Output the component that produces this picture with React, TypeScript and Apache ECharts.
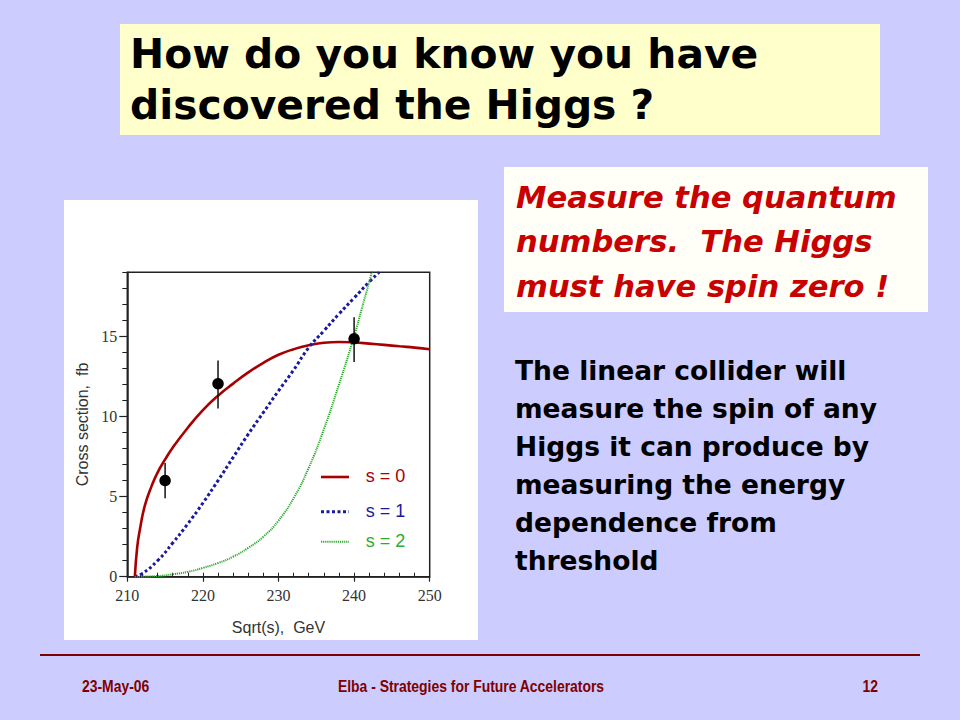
import React, { useEffect, useRef } from 'react';
import * as echarts from 'echarts';

// ---- Data ----
const s0X = [211, 211.3, 211.65, 212.3, 213.2, 214, 215, 216, 218, 220, 222, 224, 226, 228, 230, 232, 234, 236, 238, 240, 242, 244, 246, 248, 250];
const s0Y = [0, 1.8, 2.9, 4.4, 5.64, 6.5, 7.32, 8.05, 9.3, 10.4, 11.3, 12.05, 12.75, 13.35, 13.85, 14.2, 14.45, 14.6, 14.65, 14.62, 14.55, 14.47, 14.38, 14.3, 14.2];

const s1X = [211, 212, 214, 216, 218, 220, 222, 224, 226, 228, 230, 232, 234, 236, 238, 240, 242, 243.3];
const s1Y = [0, 0.2, 1.0, 2.1, 3.3, 4.6, 6.0, 7.45, 8.9, 10.25, 11.6, 12.9, 14.3, 15.35, 16.4, 17.4, 18.4, 19.0];

const s2X = [211, 214, 216, 218, 220, 222, 224, 226, 228, 230, 232, 234, 236, 238, 240, 241, 242, 242.45];
const s2Y = [0, 0.04, 0.15, 0.3, 0.55, 0.85, 1.25, 1.8, 2.5, 3.5, 4.9, 6.8, 9.2, 12.0, 15.0, 16.7, 18.4, 19.2];

const ptX = [215, 222, 240];
const ptY = [6.0, 12.05, 14.85];
const errLo = [4.9, 10.5, 13.4];
const errHi = [7.1, 13.5, 16.2];

const legendNames = ['s = 0', 's = 1', 's = 2'];
const yMajorTicks = [0, 5, 10, 15];

const titleLines = ['How do you know you have', 'discovered the Higgs ?'];
const boxLines = ['Measure the quantum', 'numbers.  The Higgs', 'must have spin zero !'];
const bodyLines = [
  'The linear collider will',
  'measure the spin of any',
  'Higgs it can produce by',
  'measuring the energy',
  'dependence from',
  'threshold',
];
const footerDate = '23-May-06';
const footerTitle = 'Elba - Strategies for Future Accelerators';
const footerPage = '12';

const RED = '#A80000';
const BLUE = '#1A1A9E';
const GREEN = '#2EAA2E';
const BLUE_DASH = [3, 2.5];
const GREEN_DASH = [1.2, 0.9];

function pairs(xs: number[], ys: number[]) {
  return xs.map((x, i) => [x, ys[i]]);
}

export default function App() {
  const ref = useRef<HTMLDivElement>(null);
  useEffect(() => {
    if (!ref.current) return;
    const chart = echarts.init(ref.current, null, { renderer: 'svg' });

    const graphics: any[] = [];
    // panel & boxes
    graphics.push({ type: 'rect', z: -10, shape: { x: 64, y: 200, width: 414, height: 440 }, style: { fill: '#FFFFFF' } });
    graphics.push({ type: 'rect', z: -10, shape: { x: 120, y: 24, width: 760, height: 111 }, style: { fill: '#FFFFCC' } });
    graphics.push({ type: 'rect', z: -10, shape: { x: 504, y: 167, width: 424, height: 145 }, style: { fill: '#FFFFF7' } });
    const titleBase = [67.7, 119];
    titleLines.forEach((t, i) => {
      graphics.push({
        type: 'text', x: 130, y: titleBase[i] - 0.346 * 40.8,
        style: { text: t, fill: '#000', font: 'bold 40.8px "DejaVu Sans"', verticalAlign: 'middle', align: 'left' },
      });
    });
    const boxBase = [208.3, 252.5, 296.7];
    boxLines.forEach((t, i) => {
      graphics.push({
        type: 'text', x: 516, y: boxBase[i] - 0.346 * 30.6,
        style: { text: t, fill: '#C80000', font: 'italic bold 30.6px "DejaVu Sans"', verticalAlign: 'middle', align: 'left' },
      });
    });
    const bodyBase = [379.3, 417.5, 455.5, 493.5, 531.7, 570];
    bodyLines.forEach((t, i) => {
      graphics.push({
        type: 'text', x: 515, y: bodyBase[i] - 0.346 * 26.5,
        style: { text: t, fill: '#000', font: 'bold 26.5px "DejaVu Sans"', verticalAlign: 'middle', align: 'left' },
      });
    });
    graphics.push({ type: 'line', shape: { x1: 40, y1: 655, x2: 920, y2: 655 }, style: { stroke: '#800000', lineWidth: 2 } });
    const footFont = 'bold 16px "Liberation Sans"';
    const sx = 0.87;
    graphics.push({ type: 'text', x: 82, y: 686, scaleX: sx, style: { text: footerDate, fill: '#800000', font: footFont, verticalAlign: 'middle', align: 'left' } });
    graphics.push({ type: 'text', x: 471, y: 686, scaleX: sx, style: { text: footerTitle, fill: '#800000', font: footFont, verticalAlign: 'middle', align: 'center' } });
    graphics.push({ type: 'text', x: 878, y: 686, scaleX: sx, style: { text: footerPage, fill: '#800000', font: footFont, verticalAlign: 'middle', align: 'right' } });

    // legend (drawn as graphic so line styles match the series exactly)
    const legY = [477, 511.7, 541.7];
    const legColors = [RED, BLUE, GREEN];
    const legStyles = [
      { lineWidth: 2.6 },
      { lineWidth: 3, lineDash: BLUE_DASH },
      { lineWidth: 2, lineDash: GREEN_DASH },
    ];
    legendNames.forEach((n, i) => {
      graphics.push({ type: 'line', z: 10, shape: { x1: 321, y1: legY[i], x2: 349, y2: legY[i] }, style: { stroke: legColors[i], ...legStyles[i] } });
      graphics.push({ type: 'text', z: 10, x: 365.7, y: legY[i] - 1, style: { text: n, fill: legColors[i], font: '18px "Liberation Sans"', verticalAlign: 'middle', align: 'left' } });
    });

    const axisColor = '#222';
    const option: any = {
      animation: false,
      backgroundColor: '#CCCCFF',
      graphic: { elements: graphics },
      grid: {
        left: 127.3, top: 272.3, width: 302.4, height: 304.4,
        show: true, borderColor: axisColor, borderWidth: 1.5, backgroundColor: 'transparent',
      },
      xAxis: [
        {
          type: 'value', min: 210, max: 250, interval: 10, position: 'bottom',
          axisLine: { show: true, lineStyle: { color: axisColor, width: 1.5 } },
          axisTick: { show: true, length: 5, lineStyle: { color: axisColor, width: 1.2 } },
          axisLabel: { fontFamily: 'Liberation Serif', fontSize: 16, color: '#333', margin: 11 },
          splitLine: { show: false },
          name: 'Sqrt(s),  GeV', nameLocation: 'middle', nameGap: 43,
          nameTextStyle: { fontFamily: 'Liberation Sans', fontSize: 16, color: '#333' },
        },
        {
          type: 'value', min: 210, max: 250, interval: 2, position: 'bottom',
          axisLine: { show: false },
          axisTick: { show: true, inside: true, length: 4, lineStyle: { color: axisColor, width: 1 } },
          axisLabel: { show: false },
          splitLine: { show: false },
        },
      ],
      yAxis: [
        {
          type: 'value', min: 0, max: 19, interval: 1, position: 'left',
          axisLine: { show: true, lineStyle: { color: axisColor, width: 1.5 } },
          axisTick: { show: true, length: 5, lineStyle: { color: axisColor, width: 1 } },
          axisLabel: { show: false },
          splitLine: { show: false },
          name: 'Cross section,  fb', nameLocation: 'middle', nameGap: 37,
          nameTextStyle: { fontFamily: 'Liberation Sans', fontSize: 16, color: '#333' },
        },
        {
          type: 'value', min: 0, max: 19, interval: 5, position: 'left',
          axisLine: { show: false },
          axisTick: { show: true, length: 8, customValues: yMajorTicks, lineStyle: { color: axisColor, width: 1.2 } },
          axisLabel: { customValues: yMajorTicks, fontFamily: 'Liberation Serif', fontSize: 16, color: '#333', margin: 10 },
          splitLine: { show: false },
        },
      ],
      series: [
        {
          name: legendNames[0], type: 'line', data: pairs(s0X, s0Y), symbol: 'none', smooth: 0.5,
          lineStyle: { color: RED, width: 2.6 }, itemStyle: { color: RED }, z: 3,
        },
        {
          name: legendNames[1], type: 'line', data: pairs(s1X, s1Y), symbol: 'none', smooth: 0.5,
          lineStyle: { color: BLUE, width: 3, type: BLUE_DASH }, itemStyle: { color: BLUE }, z: 3,
        },
        {
          name: legendNames[2], type: 'line', data: pairs(s2X, s2Y), symbol: 'none', smooth: 0.5,
          lineStyle: { color: GREEN, width: 2, type: GREEN_DASH }, itemStyle: { color: GREEN }, z: 3,
        },
        {
          name: 'errors', type: 'custom', z: 4,
          data: ptX.map((x, i) => [x, errLo[i], errHi[i]]),
          encode: { x: 0, y: [1, 2] },
          renderItem: (params: any, api: any) => {
            const p1 = api.coord([api.value(0), api.value(1)]);
            const p2 = api.coord([api.value(0), api.value(2)]);
            return {
              type: 'line',
              shape: { x1: p1[0], y1: p1[1], x2: p2[0], y2: p2[1] },
              style: { stroke: '#111', lineWidth: 1.5 },
            };
          },
        },
        {
          name: 'data', type: 'scatter', z: 5, data: pairs(ptX, ptY), symbolSize: 11.5,
          itemStyle: { color: '#000', opacity: 1 },
        },
      ],
    };
    chart.setOption(option);
    return () => chart.dispose();
  }, []);
  return <div ref={ref} style={{ position: 'absolute', left: 0, top: 0, width: 960, height: 720 }} />;
}
